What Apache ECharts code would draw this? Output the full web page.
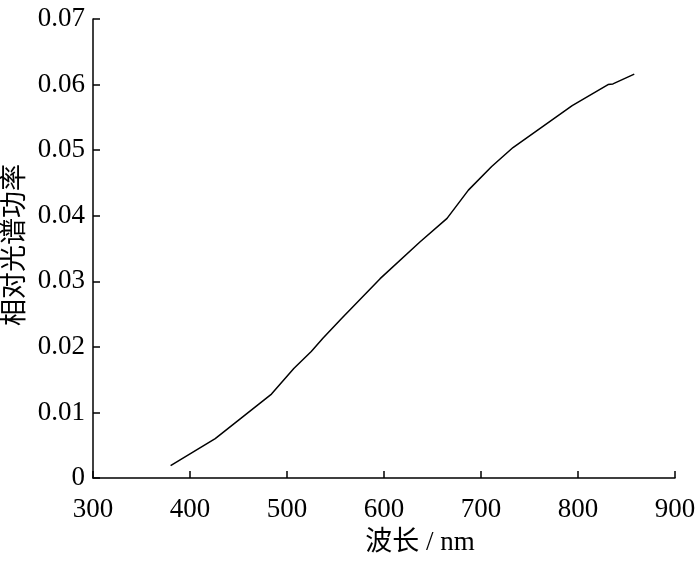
<!DOCTYPE html>
<html>
<head>
<meta charset="utf-8">
<script src="https://cdn.jsdelivr.net/npm/echarts@6/dist/echarts.min.js"></script>
<style>
  html, body { margin: 0; padding: 0; background: #fff; }
  #chart { width: 700px; height: 562px; }
</style>
</head>
<body>
<div id="chart"></div>
<script>
// wavelength (nm) and relative spectral power
var wavelength = [380, 426, 484, 507, 525, 537, 556, 596, 637, 665, 687, 711, 733, 794, 831, 836, 858];
var power = [0.0019, 0.0060, 0.0128, 0.0167, 0.0193, 0.0213, 0.0243, 0.0304, 0.0360, 0.0396, 0.0439, 0.0475, 0.0504, 0.0568, 0.0600, 0.0601, 0.0616];

var xTitle = '波长 / nm';
var yTitle = '相对光谱功率';

var serif = '"Liberation Serif", "Times New Roman", serif';
var cjk = '"Liberation Serif", "Noto Sans CJK SC", serif';

var points = wavelength.map(function (w, i) { return [w, power[i]]; });

var chart = echarts.init(document.getElementById('chart'));
chart.setOption({
  animation: false,
  grid: { left: 93, right: 25, top: 19, bottom: 84, containLabel: false, outerBoundsMode: 'none' },
  // y title drawn by hand, the axis name kept getting pushed left of the labels
  graphic: [{
    type: 'text', x: 16, y: 245, rotation: Math.PI / 2,
    style: { text: yTitle, font: '27px ' + cjk, fill: '#000', align: 'center', verticalAlign: 'middle' }
  }],
  xAxis: {
    type: 'value', min: 300, max: 900, interval: 100,
    name: xTitle, nameLocation: 'middle', nameGap: 51,
    nameTextStyle: { fontFamily: cjk, fontSize: 27, color: '#000', padding: [0, 0, 0, 72] },
    axisLine: { lineStyle: { color: '#000', width: 1.5 } },
    axisTick: { inside: true, length: 7, lineStyle: { color: '#000', width: 1.5 } },
    axisLabel: { color: '#000', fontFamily: serif, fontSize: 27, margin: 18 },
    splitLine: { show: false }
  },
  yAxis: {
    type: 'value', min: 0, max: 0.07, interval: 0.01,
    axisLine: { show: true, lineStyle: { color: '#000', width: 1.5 } },
    axisTick: { show: true, inside: true, length: 7, lineStyle: { color: '#000', width: 1.5 } },
    axisLabel: {
      color: '#000', fontFamily: serif, fontSize: 27, margin: 8,
      formatter: function (v) { return v === 0 ? '0' : v.toFixed(2); }
    },
    splitLine: { show: false }
  },
  series: [{
    type: 'line',
    data: points,
    showSymbol: false,
    lineStyle: { color: '#000', width: 1.5 }
  }]
});
</script>
</body>
</html>
